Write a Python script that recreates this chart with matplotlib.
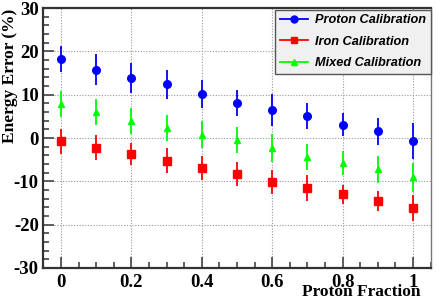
import matplotlib
matplotlib.use("Agg")
import matplotlib.pyplot as plt
from matplotlib.ticker import MultipleLocator
from matplotlib.lines import Line2D

plt.rcParams['axes.unicode_minus'] = False

fraction = [0.0, 0.1, 0.2, 0.3, 0.4, 0.5, 0.6, 0.7, 0.8, 0.9, 1.0]
proton = [18.2, 15.8, 13.9, 12.4, 10.2, 8.1, 6.5, 5.1, 3.1, 1.6, -0.7]
proton_err = [3.0, 3.5, 3.5, 3.3, 3.3, 3.0, 3.7, 3.0, 2.6, 3.1, 4.2]
iron = [-0.8, -2.2, -3.7, -5.2, -6.9, -8.3, -10.1, -11.5, -13.0, -14.5, -16.1]
iron_err = [2.8, 2.8, 2.6, 2.9, 2.8, 2.7, 2.8, 3.0, 2.2, 2.3, 3.0]
mixed = [7.8, 6.1, 4.0, 2.2, 0.8, -0.5, -2.3, -4.4, -5.7, -7.2, -9.1]
mixed_err = [3.0, 3.0, 3.0, 3.0, 3.1, 3.0, 3.3, 3.0, 2.8, 3.1, 3.4]

labels = ["Proton Calibration", "Iron Calibration", "Mixed Calibration"]
xtick_vals = [0, 0.2, 0.4, 0.6, 0.8, 1.0]
xtick_labels = ["0", "0.2", "0.4", "0.6", "0.8", "1"]

serif = ["Liberation Serif", "DejaVu Serif"]
fig = plt.figure(figsize=(4.42, 2.99), dpi=100)
ax = fig.add_axes([0.0973, 0.1037, 0.8777, 0.8695])

ax.errorbar(fraction, proton, yerr=proton_err, fmt='o', color='#0000ff', ms=5.5,
            elinewidth=1.3, capsize=0, zorder=5)
ax.errorbar(fraction, iron, yerr=iron_err, fmt='s', color='#ff0000', ms=5.5,
            elinewidth=1.3, capsize=0, zorder=5)
ax.errorbar(fraction, mixed, yerr=mixed_err, fmt='^', color='#00ff00', ms=4.5,
            elinewidth=1.3, capsize=0, zorder=5)

ax.set_xlim(-0.051, 1.051)
ax.set_ylim(-30, 30)
ax.xaxis.set_minor_locator(MultipleLocator(0.05))
ax.yaxis.set_major_locator(MultipleLocator(10))
ax.yaxis.set_minor_locator(MultipleLocator(2))
ax.set_xticks(xtick_vals)
ax.set_xticklabels(xtick_labels)
ax.tick_params(which='both', direction='in', color='#444444', top=False, right=False)
ax.tick_params(which='major', length=8, width=1.2)
ax.tick_params(which='minor', length=4, width=1.2)
ax.tick_params(axis='x', pad=4)
ax.tick_params(axis='y', pad=3)
for lab in ax.get_xticklabels() + ax.get_yticklabels():
    lab.set_fontfamily(serif)
    lab.set_fontweight('bold')
    lab.set_fontsize(13.5)

ax.grid(True, which='major', linestyle=(0, (1, 1.5)), color='#999999', linewidth=0.8)

for s in ['left', 'bottom', 'top']:
    ax.spines[s].set_linewidth(1.6)
    ax.spines[s].set_color('#333333')
ax.spines['right'].set_linewidth(1.0)
ax.spines['right'].set_color('#777777')

fig.text(10 / 442, 1 - 9 / 299, "Energy Error (%)", rotation=90, ha='center', va='top',
         fontfamily=serif, fontweight='bold', fontsize=12.5)
fig.text(421 / 442, 1 - 291.5 / 299, "Proton Fraction", ha='right', va='center',
         fontfamily=serif, fontweight='bold', fontsize=12.5)

handles = [Line2D([], [], color=c, marker=m, ms=5, lw=1.3) for c, m in
           [('#0000ff', 'o'), ('#ff0000', 's'), ('#00ff00', '^')]]
leg = ax.legend(handles, labels, loc='upper right', bbox_to_anchor=(1.0, 0.993),
                prop={'family': 'Liberation Sans', 'weight': 'bold', 'style': 'italic', 'size': 9.2},
                fancybox=False, framealpha=1.0, facecolor='#f0f0f0', edgecolor='#555555',
                handlelength=2.2, borderpad=0.35, labelspacing=0.75, borderaxespad=0.0,
                handletextpad=0.6)
leg.get_frame().set_linewidth(1.0)
leg.set_zorder(10)

fig.savefig("out.png", dpi=100)
